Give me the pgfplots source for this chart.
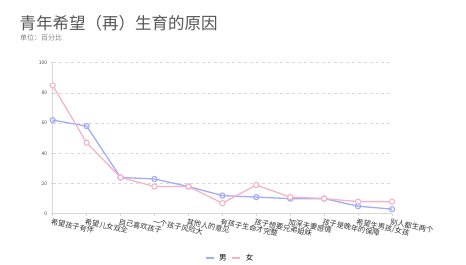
\documentclass[border=0pt]{standalone}
\usepackage{fontspec}
\setmainfont{Noto Sans CJK SC}
\usepackage{pgfplots}
\pgfplotsset{compat=1.18}
\definecolor{mblue}{HTML}{A3ACF2}
\definecolor{fpink}{HTML}{F5B3CA}
\definecolor{titlegray}{HTML}{555555}
\definecolor{axgray}{HTML}{D8D8D8}
\begin{document}
\begin{tikzpicture}[x=1bp,y=1bp]
\useasboundingbox (0,0) rectangle (466,264);
\node[anchor=base west, inner sep=0, text=titlegray, font=\fontsize{16.5bp}{18bp}\selectfont] at (19.5,234.5) {青年希望（再）生育的原因};
\node[anchor=base west, inner sep=0, text=gray, font=\fontsize{7bp}{8bp}\selectfont] at (20,224) {单位：百分比};
\begin{axis}[
  at={(52.7bp,50.3bp)}, anchor=south west,
  scale only axis, width=339.3bp, height=151bp,
  xmin=0, xmax=10, ymin=0, ymax=100,
  axis x line*=bottom, axis y line*=left,
  axis line style={axgray, line width=0.6bp},
  xtick={0,...,10}, ytick={0,20,...,100},
  xticklabels={希望孩子有伴,希望儿女双全,自己喜欢孩子,一个孩子风险大,其他人的意见,有孩子生命才完整,孩子想要兄弟姐妹,加深夫妻感情,孩子是晚年的保障,希望生男孩/女孩,别人都生两个},
  x tick label style={rotate=-12, anchor=north west, font=\fontsize{7.3bp}{8bp}\selectfont, inner sep=0.5bp, yshift=-2bp, xshift=-1bp, text=black!80},
  y tick label style={font=\fontsize{5bp}{6bp}\selectfont, text=black!70},
  /pgf/number format/assume math mode=true,
  tick align=outside, major tick length=2bp,
  tick style={axgray, line width=0.5bp},
  ymajorgrids, grid style={dashed, axgray, line width=0.5bp},
  legend style={at={(axis description cs:0.523,-0.293)}, anchor=center, draw=none, fill=none, legend columns=2, font=\fontsize{7.5bp}{8bp}\selectfont, column sep=3bp},
  legend image code/.code={\draw[#1, mark=none] (0bp,0bp)--(8bp,0bp);},
  every axis plot/.append style={line width=1.3bp},
]
\addplot[mblue, mark=o, mark size=2.6bp, mark options={fill=white, line width=1.1bp}] coordinates {
(0,62) (1,58) (2,24) (3,23) (4,18) (5,12) (6,11) (7,10) (8,10) (9,5) (10,3)};
\addlegendentry{男}
\addplot[fpink, mark=*, mark size=2.6bp, mark options={fill=white, line width=1.1bp}] coordinates {
(0,85) (1,47) (2,24) (3,18) (4,18) (5,7) (6,19) (7,11) (8,10) (9,8) (10,8)};
\addlegendentry{女}
\end{axis}
\end{tikzpicture}
\end{document}
